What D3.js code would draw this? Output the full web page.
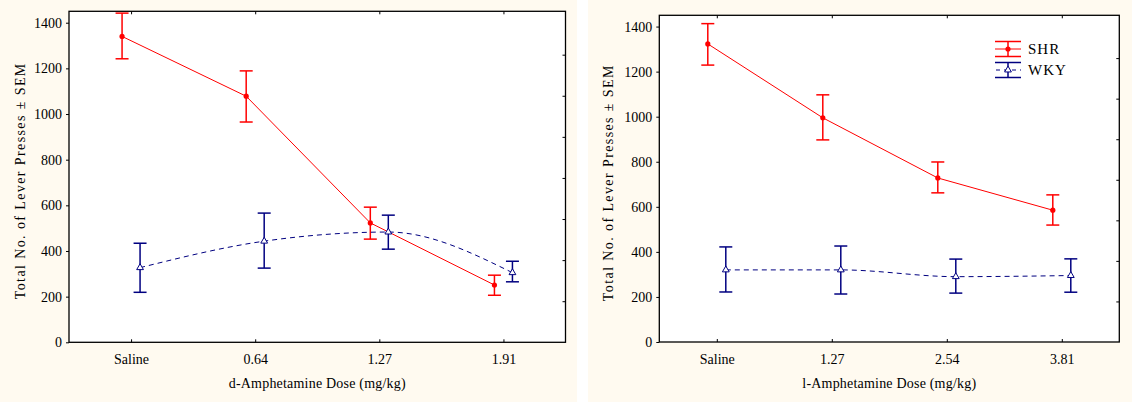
<!DOCTYPE html>
<html>
<head>
<meta charset="utf-8">
<script src="https://cdn.jsdelivr.net/npm/d3@7"></script>
<style>
  body { margin: 0; background: #ffffff; }
  svg { display: block; }
  svg text { font-family: "Liberation Serif", "DejaVu Serif", serif; fill: #000; }
</style>
</head>
<body>
<div id="chart"></div>
<script>
// d-amphetamine panel
const dDoses = ["Saline", "0.64", "1.27", "1.91"];
const dShrMean = [1340, 1078, 523, 251];
const dShrHigh = [1442, 1189, 592, 294];
const dShrLow = [1242, 965, 452, 206];
const dWkyMean = [327, 443, 483, 305];
const dWkyHigh = [434, 566, 557, 355];
const dWkyLow = [219, 325, 408, 265];

// l-amphetamine panel
const lDoses = ["Saline", "1.27", "2.54", "3.81"];
const lShrMean = [1323, 995, 728, 585];
const lShrHigh = [1413, 1097, 799, 653];
const lShrLow = [1229, 897, 662, 519];
const lWkyMean = [320, 320, 290, 295];
const lWkyHigh = [422, 426, 368, 369];
const lWkyLow = [222, 213, 217, 221];

const yTicks = [0, 200, 400, 600, 800, 1000, 1200, 1400];
const yRightTicks = [180, 360, 540, 720, 900, 1080, 1260];
const yMax = 1450;

const red = "#ff0000";
const navy = "#000080";
const serif = "Liberation Serif, DejaVu Serif, serif";

const W = 1132, H = 407;

const svg = d3.select("#chart")
  .append("svg")
  .attr("width", W)
  .attr("height", H)
  .attr("viewBox", `0 0 ${W} ${H}`)
  .attr("font-family", serif);

function renderPanel(opts) {
  const { x0, panelWidth, plot, doses, shr, wky, xTitle, legend } = opts;

  // cream panel background
  svg.append("rect")
    .attr("x", x0).attr("y", 0)
    .attr("width", panelWidth).attr("height", 402)
    .attr("fill", "#fffaf0");

  const g = svg.append("g").attr("transform", `translate(${plot.left},${plot.top})`);
  const width = plot.right - plot.left;
  const height = plot.bottom - plot.top;

  g.append("rect")
    .attr("width", width).attr("height", height)
    .attr("fill", "#ffffff");

  const xScale = d3.scalePoint().domain(doses).range([0, width]).padding(0.5);
  const yScale = d3.scaleLinear().domain([0, yMax]).range([height, 0]);

  // left axis
  g.append("g")
    .attr("class", "y-axis")
    .call(d3.axisLeft(yScale).tickValues(yTicks).tickSize(3).tickPadding(4).tickFormat(d3.format("d")))
    .call((a) => a.select(".domain").remove())
    .call((a) => a.attr("font-family", serif).attr("font-size", 14));

  // right ticks (inward)
  g.append("g")
    .attr("transform", `translate(${width},0)`)
    .call(d3.axisRight(yScale).tickValues(yRightTicks).tickSize(-3).tickFormat(""))
    .call((a) => a.select(".domain").remove());

  // bottom axis, ticks inward
  g.append("g")
    .attr("transform", `translate(0,${height})`)
    .call(d3.axisBottom(xScale).tickSize(-3).tickPadding(12))
    .call((a) => a.select(".domain").remove())
    .call((a) => a.attr("font-family", serif).attr("font-size", 14));

  // top ticks, inward
  g.append("g")
    .call(d3.axisTop(xScale).tickSize(-3).tickFormat(""))
    .call((a) => a.select(".domain").remove());

  // frame
  g.append("rect")
    .attr("width", width).attr("height", height)
    .attr("fill", "none")
    .attr("stroke", "#000")
    .attr("stroke-width", 1.3);

  const dodge = 9;
  const series = [
    { name: "SHR", color: red, dash: null, offset: -dodge, curve: d3.curveLinear, ...shr },
    { name: "WKY", color: navy, dash: "5,4", offset: dodge, curve: d3.curveMonotoneX, ...wky }
  ];

  series.forEach((s) => {
    const pts = doses.map((d, i) => ({
      x: xScale(d) + s.offset,
      mean: s.mean[i], hi: s.high[i], lo: s.low[i]
    }));

    const line = d3.line()
      .x((d) => d.x)
      .y((d) => yScale(d.mean))
      .curve(s.curve);

    g.append("path")
      .datum(pts)
      .attr("d", line)
      .attr("fill", "none")
      .attr("stroke", s.color)
      .attr("stroke-width", 1)
      .attr("stroke-dasharray", s.dash);

    // error bars
    const eb = g.append("g").selectAll("g").data(pts).join("g");
    eb.append("line")
      .attr("x1", (d) => d.x).attr("x2", (d) => d.x)
      .attr("y1", (d) => yScale(d.hi)).attr("y2", (d) => yScale(d.lo))
      .attr("stroke", s.color).attr("stroke-width", 1.5);
    ["hi", "lo"].forEach((k) => {
      eb.append("line")
        .attr("x1", (d) => d.x - 6.5).attr("x2", (d) => d.x + 6.5)
        .attr("y1", (d) => yScale(d[k])).attr("y2", (d) => yScale(d[k]))
        .attr("stroke", s.color).attr("stroke-width", 1.5);
    });

    drawMarkers(g, s, pts.map((d) => [d.x, yScale(d.mean)]));
  });

  // axis titles
  svg.append("text")
    .attr("x", plot.left + width / 2)
    .attr("y", 388)
    .attr("text-anchor", "middle")
    .style("font-size", "14px")
    .style("letter-spacing", "0.2px")
    .text(xTitle);

  svg.append("text")
    .attr("transform", `translate(${x0 + 25},${plot.top + height / 2 + 4}) rotate(-90)`)
    .attr("text-anchor", "middle")
    .style("font-size", "14px")
    .style("letter-spacing", "1.4px")
    .text("Total No. of Lever Presses ± SEM");

  if (legend) {
    const lg = svg.append("g").attr("transform", `translate(${legend.x},${legend.y})`);
    series.forEach((s, i) => {
      const row = lg.append("g").attr("transform", `translate(0,${i * 21})`);
      [-7.5, 7.5].forEach((dy) => {
        row.append("line")
          .attr("x1", 0).attr("x2", 26).attr("y1", dy).attr("y2", dy)
          .attr("stroke", s.color).attr("stroke-width", 1.5);
      });
      row.append("line")
        .attr("x1", 13).attr("x2", 13).attr("y1", -7.5).attr("y2", 7.5)
        .attr("stroke", s.color).attr("stroke-width", 1.5);
      row.append("line")
        .attr("x1", 0).attr("x2", 26).attr("y1", 0).attr("y2", 0)
        .attr("stroke", s.color).attr("stroke-width", 1)
        .attr("stroke-dasharray", s.dash ? "4,4" : null)
        .attr("stroke-dashoffset", s.dash ? -1 : null);
      drawMarkers(row, s, [[13, 0]]);
      row.append("text")
        .attr("x", 33).attr("y", 0)
        .attr("dominant-baseline", "central")
        .style("font-size", "15px")
        .style("letter-spacing", "1px")
        .text(s.name);
    });
  }
}

function drawMarkers(g, s, coords) {
  if (s.name === "SHR") {
    g.append("g").selectAll("circle").data(coords).join("circle")
      .attr("cx", (d) => d[0]).attr("cy", (d) => d[1])
      .attr("r", 2.6)
      .attr("fill", red);
  } else {
    const tri = d3.symbol().type(d3.symbolTriangle).size(20);
    g.append("g").selectAll("path").data(coords).join("path")
      .attr("transform", (d) => `translate(${d[0]},${d[1]})`)
      .attr("d", tri)
      .attr("fill", "#ffffff")
      .attr("stroke", navy)
      .attr("stroke-width", 1);
  }
}

renderPanel({
  x0: 0,
  panelWidth: 577,
  plot: { left: 69, right: 565.5, top: 11.3, bottom: 342.3 },
  doses: dDoses,
  shr: { mean: dShrMean, high: dShrHigh, low: dShrLow },
  wky: { mean: dWkyMean, high: dWkyHigh, low: dWkyLow },
  xTitle: "d-Amphetamine Dose (mg/kg)",
  legend: null
});

renderPanel({
  x0: 588,
  panelWidth: 544,
  plot: { left: 659.3, right: 1119.3, top: 15.3, bottom: 342 },
  doses: lDoses,
  shr: { mean: lShrMean, high: lShrHigh, low: lShrLow },
  wky: { mean: lWkyMean, high: lWkyHigh, low: lWkyLow },
  xTitle: "l-Amphetamine Dose (mg/kg)",
  legend: { x: 995, y: 49 }
});
</script>
</body>
</html>
